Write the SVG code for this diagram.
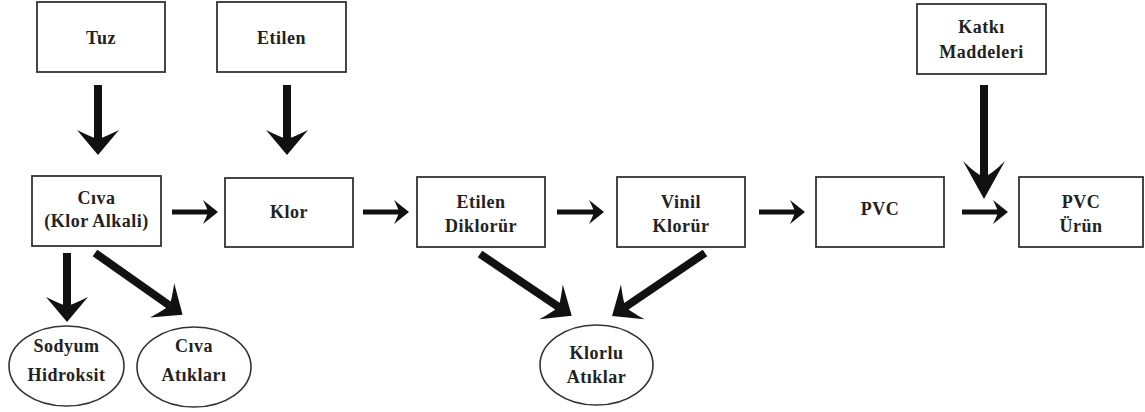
<svg xmlns="http://www.w3.org/2000/svg" width="1145" height="412" viewBox="0 0 1145 412">
<style>
.box{fill:#fff;stroke:#333;stroke-width:1.8}
.ell{fill:#fff;stroke:#333;stroke-width:1.6}
.t{font-family:"Liberation Serif","Times New Roman","DejaVu Serif",serif;font-weight:bold;font-size:18px;fill:#222;text-anchor:middle;letter-spacing:0.5px}
.big{stroke:#111;stroke-width:8;fill:none}
.sm{stroke:#111;stroke-width:5;fill:none}
</style>
<defs>
<marker id="hb" markerUnits="userSpaceOnUse" viewBox="-12 -22 30 44" refX="0" refY="0" markerWidth="30" markerHeight="44" orient="auto" overflow="visible">
<path d="M16,0 L-9,-21 Q-2,-7 0,0 Q-2,7 -9,21 Z" fill="#111"/>
</marker>
<marker id="hk" markerUnits="userSpaceOnUse" viewBox="-20 -24 50 48" refX="0" refY="0" markerWidth="50" markerHeight="48" orient="auto" overflow="visible">
<path d="M22,0 L-16,-21 Q-3,-8 0,0 Q-3,8 -16,21 Z" fill="#111"/>
</marker>
<marker id="hs" markerUnits="userSpaceOnUse" viewBox="-8 -14 22 28" refX="0" refY="0" markerWidth="22" markerHeight="28" orient="auto" overflow="visible">
<path d="M10,0 L-5,-12 Q-1,-4 0,0 Q-1,4 -5,12 Z" fill="#111"/>
</marker>
</defs>

<g id="connectors">
<line class="big" x1="98" y1="85" x2="98" y2="139" marker-end="url(#hb)"/>
<line class="big" x1="287" y1="85" x2="287" y2="139" marker-end="url(#hb)"/>
<line class="big" x1="984" y1="85" x2="984" y2="177" marker-end="url(#hk)"/>
<line class="big" x1="67" y1="253" x2="67" y2="306" marker-end="url(#hb)"/>
<line class="big" x1="95" y1="253" x2="169.5" y2="305.5" marker-end="url(#hb)"/>
<line class="big" x1="480" y1="254" x2="558.5" y2="306.9" marker-end="url(#hb)"/>
<line class="big" x1="705" y1="253" x2="625.3" y2="307" marker-end="url(#hb)"/>
<line class="sm" x1="172" y1="212" x2="208" y2="212" marker-end="url(#hs)"/>
<line class="sm" x1="363" y1="212" x2="399" y2="212" marker-end="url(#hs)"/>
<line class="sm" x1="557" y1="212" x2="594" y2="212" marker-end="url(#hs)"/>
<line class="sm" x1="759" y1="212" x2="795" y2="212" marker-end="url(#hs)"/>
<line class="sm" x1="962" y1="212" x2="998" y2="212" marker-end="url(#hs)"/>
</g>

<g id="tuz"><rect class="box" x="37" y="2" width="128" height="70"/><text class="t" x="101" y="44">Tuz</text></g>
<g id="etilen"><rect class="box" x="217" y="2" width="129" height="70"/><text class="t" x="281.5" y="44">Etilen</text></g>
<g id="katki"><rect class="box" x="917" y="4" width="129" height="70"/><text class="t" x="981.5" y="33">Katkı</text><text class="t" x="981.5" y="58">Maddeleri</text></g>
<g id="civa"><rect class="box" x="32" y="176" width="129" height="70"/><text class="t" x="96.5" y="204">Cıva</text><text class="t" x="96.5" y="227">(Klor Alkali)</text></g>
<g id="klor"><rect class="box" x="225" y="178" width="128" height="69"/><text class="t" x="289" y="218">Klor</text></g>
<g id="edc"><rect class="box" x="417" y="177" width="128" height="70"/><text class="t" x="481" y="208">Etilen</text><text class="t" x="481" y="232">Diklorür</text></g>
<g id="vc"><rect class="box" x="617" y="177" width="128" height="70"/><text class="t" x="681" y="208">Vinil</text><text class="t" x="681" y="232">Klorür</text></g>
<g id="pvc"><rect class="box" x="816" y="177" width="128" height="70"/><text class="t" x="880" y="215">PVC</text></g>
<g id="pvcurun"><rect class="box" x="1019" y="177" width="124" height="70"/><text class="t" x="1081" y="208">PVC</text><text class="t" x="1081" y="232">Ürün</text></g>
<g id="sodyum"><ellipse class="ell" cx="66.5" cy="366" rx="57.5" ry="40"/><text class="t" x="66.5" y="352">Sodyum</text><text class="t" x="66.5" y="381">Hidroksit</text></g>
<g id="civaatik"><ellipse class="ell" cx="194" cy="367" rx="57" ry="40"/><text class="t" x="194" y="352">Cıva</text><text class="t" x="194" y="381">Atıkları</text></g>
<g id="klorlu"><ellipse class="ell" cx="596.5" cy="365" rx="56.5" ry="40"/><text class="t" x="596.5" y="359">Klorlu</text><text class="t" x="596.5" y="383">Atıklar</text></g>
</svg>
